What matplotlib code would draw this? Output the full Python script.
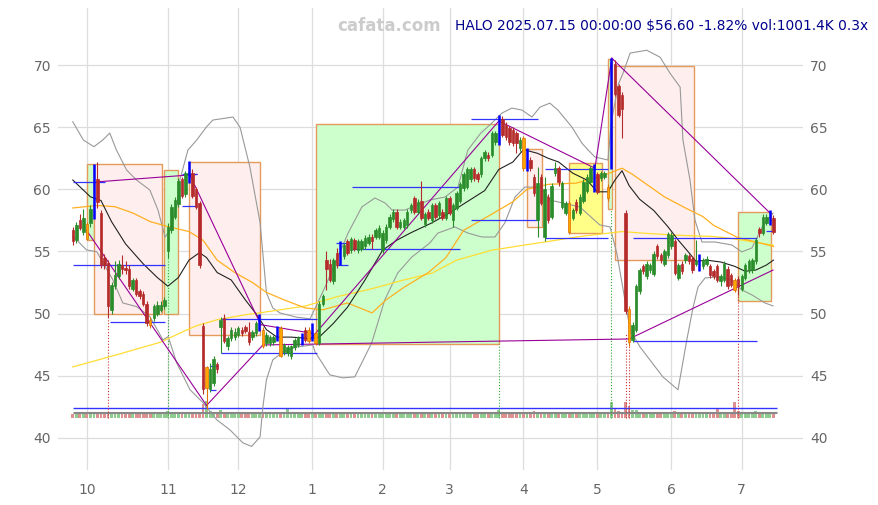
import numpy as np
import pandas as pd
import matplotlib
matplotlib.use('Agg')
import matplotlib.pyplot as plt
from matplotlib.patches import Rectangle

# trading days shown (NYSE calendar)
holidays = ['2024-11-28', '2024-12-25', '2025-01-01', '2025-01-09', '2025-01-20',
            '2025-02-17', '2025-04-18', '2025-05-26', '2025-06-19', '2025-07-04']
dates = pd.bdate_range('2024-09-25', '2025-07-15')
dates = dates[~dates.isin(pd.to_datetime(holidays))]

opens = [56.7, 55.9, 57.5, 56.6, 57.2, 57.3, 58.4, 60.8, 58.1, 54.5,
         54.1, 50.3, 52.2, 53.0, 53.9, 53.7, 53.6, 52.0, 52.7, 51.8,
         51.6, 50.8, 49.5, 49.6, 50.0, 50.3, 50.6, 55.0, 56.7, 57.8,
         58.8, 60.8, 59.6, 60.8, 61.3, 60.0, 58.9, 49.0, 44.0, 43.9,
         44.4, 45.9, 48.9, 49.6, 47.4, 48.0, 48.1, 48.3, 48.7, 48.9,
         48.5, 48.1, 48.4, 48.7, 48.7, 47.6, 47.6, 47.7, 47.9, 48.8,
         46.9, 46.8, 46.6, 47.3, 47.5, 47.6, 48.7, 48.7, 47.9, 48.4,
         47.6, 50.8, 54.3, 54.0, 52.6, 54.9, 54.0, 54.6, 55.8, 55.1,
         55.9, 55.1, 55.2, 55.4, 55.7, 56.2, 56.2, 56.2, 55.1, 55.9,
         57.0, 57.6, 58.2, 57.0, 57.0, 57.1, 58.3, 59.3, 58.2, 59.1,
         57.2, 58.2, 57.5, 58.7, 57.9, 58.2, 57.7, 59.3, 57.5, 58.5,
         59.1, 60.1, 60.2, 60.8, 61.6, 61.2, 61.2, 62.5, 62.8, 62.8,
         63.8, 63.8, 65.7, 65.2, 64.9, 64.8, 64.5, 63.3, 64.1, 61.7,
         62.4, 61.0, 57.5, 61.0, 56.2, 59.4, 57.8, 61.3, 61.7, 58.6,
         58.1, 58.9, 57.7, 59.0, 58.1, 59.1, 59.9, 60.6, 60.0, 61.2,
         60.9, 61.0, 60.2, 61.8, 70.1, 68.3, 67.6, 58.1, 50.4, 47.9,
         48.7, 51.8, 53.8, 53.0, 53.5, 53.2, 55.4, 54.7, 54.0, 54.7,
         55.4, 55.8, 52.9, 54.0, 54.3, 54.6, 54.4, 54.0, 53.6, 53.8,
         54.0, 53.8, 53.4, 53.8, 52.6, 52.7, 53.6, 53.1, 52.7, 52.8,
         52.0, 52.9, 53.5, 53.5, 54.2, 56.8, 56.5, 57.3, 57.3, 57.7]
highs = [57.0, 57.4, 58.0, 58.4, 57.4, 58.7, 62.0, 62.2, 58.3, 54.8,
         54.3, 52.5, 54.2, 54.3, 54.7, 54.2, 53.9, 52.9, 52.9, 52.0,
         51.8, 51.0, 49.7, 50.8, 51.0, 51.0, 51.3, 57.3, 58.8, 59.4,
         60.9, 61.0, 61.5, 62.3, 61.6, 60.2, 59.1, 49.2, 45.8, 46.0,
         46.6, 46.1, 49.7, 50.0, 48.2, 48.9, 48.8, 49.0, 48.9, 49.1,
         49.3, 48.7, 49.4, 50.0, 48.9, 48.5, 48.3, 48.3, 49.0, 49.0,
         47.6, 47.5, 47.5, 48.0, 48.2, 48.4, 48.9, 48.9, 49.2, 48.6,
         51.0, 51.6, 55.0, 54.4, 54.5, 55.3, 55.8, 55.7, 56.0, 56.2,
         56.1, 56.0, 56.0, 56.3, 56.4, 56.4, 56.9, 57.1, 56.7, 57.2,
         58.0, 58.4, 58.4, 57.6, 57.7, 58.4, 58.9, 59.5, 59.2, 60.7,
         58.2, 58.4, 58.9, 58.9, 59.1, 58.4, 59.5, 59.5, 58.9, 59.9,
         60.6, 61.4, 61.8, 61.8, 61.8, 61.4, 62.7, 63.2, 63.0, 64.7,
         64.7, 66.0, 65.9, 65.4, 65.1, 65.0, 64.7, 64.2, 64.3, 63.3,
         62.6, 61.2, 61.8, 61.2, 61.0, 59.6, 60.5, 62.2, 61.9, 60.7,
         59.1, 59.1, 58.5, 59.2, 59.6, 60.8, 61.2, 61.9, 62.0, 61.4,
         61.5, 61.5, 60.4, 70.6, 70.4, 68.5, 67.8, 58.3, 50.6, 49.3,
         52.4, 53.7, 54.0, 54.2, 54.1, 55.0, 55.6, 54.9, 55.2, 56.6,
         56.6, 56.0, 54.1, 54.2, 54.9, 54.8, 54.6, 55.9, 54.8, 54.5,
         54.6, 54.0, 53.6, 54.0, 53.2, 54.2, 53.8, 53.3, 52.9, 53.0,
         53.2, 54.1, 54.4, 54.5, 56.1, 57.0, 58.0, 58.0, 58.3, 57.9]
lows = [55.5, 55.7, 56.7, 56.3, 55.9, 57.0, 57.6, 58.5, 53.7, 53.6,
        49.6, 50.0, 52.0, 52.8, 53.2, 53.2, 52.0, 51.8, 51.4, 51.2,
        50.6, 49.0, 48.8, 49.4, 49.8, 50.1, 50.4, 54.5, 56.5, 57.6,
        58.6, 59.3, 59.4, 60.5, 59.3, 58.4, 53.7, 43.5, 42.3, 43.7,
        44.2, 45.2, 46.8, 47.6, 47.1, 47.8, 47.9, 48.1, 48.2, 48.4,
        47.5, 47.9, 48.2, 48.6, 47.2, 47.4, 47.4, 47.5, 47.8, 46.5,
        46.7, 46.6, 46.3, 47.1, 47.3, 47.5, 47.7, 47.6, 47.8, 47.5,
        47.5, 50.6, 51.9, 52.5, 52.4, 53.7, 53.9, 54.4, 54.7, 54.9,
        55.0, 54.9, 55.0, 55.2, 55.5, 55.2, 56.0, 56.0, 54.9, 55.7,
        56.8, 57.4, 56.8, 56.8, 56.8, 56.9, 58.1, 58.0, 58.0, 57.5,
        57.0, 57.5, 57.3, 57.6, 57.7, 57.5, 57.5, 57.9, 57.0, 58.3,
        58.9, 59.9, 60.0, 60.6, 60.7, 60.6, 61.0, 62.3, 62.3, 62.6,
        63.6, 63.6, 64.2, 64.0, 63.6, 63.5, 62.9, 63.1, 61.5, 61.5,
        61.5, 59.5, 56.2, 58.7, 55.8, 57.3, 57.6, 61.1, 60.3, 58.4,
        57.9, 56.4, 57.5, 58.1, 57.9, 58.9, 59.7, 60.4, 59.8, 59.6,
        60.7, 60.8, 59.1, 61.6, 67.5, 65.8, 64.1, 50.0, 47.4, 47.7,
        48.5, 51.6, 53.2, 52.8, 53.3, 53.0, 54.4, 54.1, 53.8, 54.5,
        55.2, 53.1, 52.7, 53.2, 54.1, 54.0, 53.3, 53.8, 53.4, 53.6,
        53.8, 52.9, 52.8, 52.5, 52.2, 52.5, 52.0, 52.1, 51.7, 51.5,
        51.8, 52.7, 53.3, 53.3, 54.0, 56.2, 56.3, 57.1, 57.1, 56.4]
closes = [55.8, 57.1, 56.9, 57.7, 56.0, 58.4, 61.0, 59.0, 53.9, 53.9,
          50.6, 52.3, 53.1, 54.0, 53.6, 53.5, 52.2, 52.7, 51.6, 51.4,
          50.8, 49.2, 49.1, 50.6, 50.7, 50.7, 51.1, 57.0, 58.6, 59.1,
          60.7, 59.5, 61.3, 62.2, 59.5, 58.6, 53.9, 43.9, 45.7, 45.5,
          46.3, 45.5, 49.5, 47.8, 48.0, 48.7, 48.5, 48.8, 48.4, 48.6,
          47.7, 48.5, 49.2, 49.9, 47.4, 48.3, 48.1, 48.1, 48.8, 46.6,
          47.5, 47.3, 47.4, 47.9, 48.1, 48.3, 47.9, 47.8, 49.1, 47.6,
          50.8, 51.4, 53.6, 52.7, 54.3, 53.9, 55.6, 55.5, 54.9, 56.0,
          55.2, 55.8, 55.8, 56.1, 56.2, 55.8, 56.7, 56.9, 56.5, 57.0,
          57.8, 58.2, 57.0, 57.4, 57.5, 58.2, 58.7, 58.2, 59.0, 57.7,
          58.0, 57.7, 58.7, 57.8, 58.9, 57.7, 59.3, 58.1, 58.7, 59.7,
          60.4, 61.2, 61.6, 61.6, 60.9, 60.8, 62.5, 63.0, 62.5, 64.5,
          64.5, 65.3, 64.4, 64.2, 63.8, 63.7, 63.7, 64.0, 61.7, 63.2,
          61.7, 59.7, 60.5, 58.9, 60.0, 57.5, 60.3, 61.7, 60.6, 60.5,
          58.9, 56.6, 58.3, 58.3, 59.4, 60.6, 61.0, 61.7, 61.9, 59.8,
          61.3, 61.3, 59.3, 70.5, 67.7, 66.0, 66.5, 50.2, 47.7, 49.1,
          52.2, 53.5, 53.4, 54.0, 53.9, 54.8, 54.6, 54.3, 55.0, 56.4,
          56.3, 53.3, 53.9, 53.4, 54.7, 54.2, 53.5, 54.2, 54.6, 54.3,
          54.4, 53.1, 53.0, 52.7, 53.0, 54.0, 52.2, 52.3, 51.9, 52.2,
          53.0, 53.9, 54.2, 54.3, 55.9, 56.5, 57.8, 57.8, 57.65, 56.6]
volume_k = [2300, 2100, 2400, 2200, 2600, 2500, 2900, 3300, 3100, 2600,
            3000, 2400, 2200, 2300, 2000, 2100, 2300, 2000, 2200, 2100,
            2300, 2500, 2400, 2200, 2100, 2000, 2300, 3600, 2900, 2500,
            2600, 2300, 2400, 2800, 2500, 2400, 3400, 7200, 8600, 3800,
            3200, 2600, 4300, 3400, 2600, 2300, 2400, 2200, 2500, 2300,
            2600, 2200, 2300, 2500, 2700, 2200, 2100, 2000, 2400, 2800,
            2300, 4600, 2200, 2100, 2000, 2300, 2400, 2500, 2600, 2700,
            3000, 2800, 3200, 2600, 2500, 2400, 2700, 2300, 2400, 2200,
            2300, 2200, 2100, 2300, 2000, 2200, 2300, 2100, 2400, 2200,
            2300, 2200, 2500, 2100, 2000, 2300, 2200, 2400, 2100, 2600,
            2300, 2200, 2400, 2300, 2100, 2200, 2300, 2400, 2200, 2300,
            2400, 2300, 2500, 2200, 2400, 2300, 2500, 2400, 2200, 2600,
            2500, 4300, 2700, 2400, 2500, 2300, 2400, 2200, 2900, 2700,
            2500, 3500, 3000, 2700, 3100, 2600, 2800, 2400, 2500, 2600,
            2300, 2800, 2400, 2300, 2500, 2400, 2300, 2200, 2600, 2400,
            2200, 2300, 2700, 8200, 5000, 3600, 3000, 8200, 6300, 4300,
            4300, 3200, 2600, 2500, 2400, 2600, 2700, 2300, 2400, 2500,
            2400, 3800, 2600, 2500, 2300, 2400, 2600, 2300, 2500, 2400,
            2300, 2500, 2400, 5000, 2500, 2600, 2800, 2500, 8000, 3800,
            2500, 2600, 2400, 2500, 3500, 2600, 2400, 2300, 2200, 2100]

orange_days = [4, 22, 38, 54, 59, 67, 69, 128, 141, 152, 158, 188]
blue_days = [6, 33, 53, 58, 65, 68, 76, 121, 129, 148, 153, 178, 198]

# indicator lines (trading-day index, price)
mid_d = [0, 5, 8, 11, 15, 20, 24, 27, 30, 33, 36, 38, 41, 45, 49, 52, 55, 58, 62, 67,
         70, 74, 78, 83, 88, 92, 96, 102, 107, 112, 117, 121, 125, 128, 132, 135, 138,
         142, 146, 149, 152, 154, 156, 158, 161, 165, 169, 172, 175, 177, 180, 184,
         188, 191, 194, 197, 199]
mid_v = [60.75, 59.4, 59.1, 57.4, 55.6, 54.0, 52.9, 52.2, 52.9, 54.3, 54.9, 54.5, 53.3,
         52.7, 51.1, 50.0, 48.7, 48.1, 48.1, 48.0, 48.1, 49.2, 50.5, 52.7, 55.1, 55.9,
         56.5, 57.3, 58.1, 59.0, 59.9, 61.6, 62.2, 63.2, 62.9, 62.5, 62.2, 61.3, 60.75,
         59.8, 59.8, 60.75, 61.5, 60.3, 59.2, 58.3, 57.0, 55.9, 54.9, 54.2, 54.3, 54.15,
         53.8, 53.4, 53.5, 53.9, 54.3]
ma50_d = [0, 7, 12, 17, 22, 27, 33, 37, 41, 46, 51, 55, 60, 66, 71, 78, 85, 89, 94,
          101, 106, 111, 119, 125, 129, 135, 143, 151, 156, 159, 163, 168, 174, 179,
          182, 189, 195, 199]
ma50_v = [58.5, 58.7, 58.6, 58.1, 57.4, 57.0, 56.6, 55.9, 54.3, 53.3, 52.5, 51.7, 51.1,
          50.45, 50.3, 50.85, 50.05, 51.1, 52.1, 53.3, 54.5, 56.7, 58.0, 59.0, 60.0,
          60.4, 60.5, 61.15, 61.7, 61.2, 60.4, 59.4, 58.5, 57.8, 57.1, 56.1, 55.7, 55.4]
ma200_d = [0, 14, 25, 31, 35, 41, 49, 53, 66, 75, 85, 94, 102, 109, 119, 128, 135,
           144, 156, 163, 172, 182, 187, 199]
ma200_v = [45.7, 46.8, 47.7, 48.5, 49.0, 49.5, 49.9, 50.05, 50.6, 51.35, 52.0, 52.7,
           53.25, 54.3, 55.1, 55.5, 55.8, 56.2, 56.6, 56.45, 56.3, 56.2, 56.05, 55.5]
upper_d = [0, 3, 6, 8.5, 10.5, 12.4, 15.3, 18.1, 21.9, 24.2, 26.2, 27.6, 29.5, 30.4,
           32.7, 35.2, 38, 39.8, 45.5, 47.5, 50.3, 53.2, 55, 56.8, 58.8, 63.6, 67.4,
           71.6, 75.3, 78.2, 82.1, 85.8, 88.7, 90.7, 94.3, 101.4, 105.7, 109.4, 112.2,
           115.9, 119, 121.9, 124.7, 127.6, 130.4, 132.7, 135.5, 137.8, 141.8, 144.6,
           146.4, 148.3, 152, 153, 155, 156.3, 158.3, 163, 166.8, 169.6, 172.5, 173.3,
           175.3, 176.7, 177.6, 178.7, 182.4, 187.2, 190, 192.9, 195.8, 198.9]
upper_v = [65.44, 63.97, 63.43, 63.97, 64.53, 63.16, 61.55, 60.75, 59.94, 58.33, 56.16,
           56.7, 58.6, 60.75, 63.16, 63.97, 65.04, 65.58, 65.82, 65.0, 61.8, 57.3, 51.66,
           50.45, 50.05, 49.7, 49.57, 52.1, 54.55, 56.48, 58.58, 59.3, 58.9, 58.33, 58.33,
           59.14, 59.38, 60.18, 63.16, 64.53, 65.33, 66.14, 66.54, 66.38, 65.82, 66.62,
           66.94, 66.38, 65.0, 63.72, 63.16, 62.6, 62.36, 65.5, 68.5, 69.36, 70.97, 71.2,
           70.64, 69.36, 68.23, 63.97, 60.75, 57.53, 56.73, 55.76, 55.76, 55.52, 54.96,
           55.28, 56.97, 58.09]
lower_d = [0, 1.1, 3.9, 6.8, 11.4, 14.2, 18.1, 21.9, 25.6, 27.1, 29.5, 33.3, 37, 40.9,
           44.6, 48.3, 50.8, 53.2, 54, 55, 56.8, 59.7, 63.6, 68.2, 68.8, 73, 76.7, 80.1,
           84.9, 88.6, 92.3, 96.3, 101.4, 103.7, 108.5, 112.2, 116.2, 119.9, 122.7, 125.6,
           128.4, 132.7, 135.5, 144, 149.7, 152.6, 154.5, 158.3, 161.1, 163.9, 167.6,
           171.9, 174.4, 176.2, 177.6, 179.6, 183.8, 187.2, 190, 192.9, 196.6, 198.9]
lower_v = [56.2, 55.92, 55.12, 54.98, 52.7, 50.85, 50.56, 49.75, 47.88, 48.14, 46.03,
           43.86, 42.81, 41.44, 40.64, 39.59, 39.3, 40.07, 42.49, 44.66, 46.27, 46.91,
           47.31, 47.47, 46.91, 45.06, 44.82, 44.9, 47.64, 51.09, 53.27, 54.55, 55.68,
           56.48, 56.97, 56.48, 56.16, 56.16, 57.29, 59.38, 60.18, 60.18, 59.14, 58.58,
           57.13, 56.97, 54.88, 48.68, 47.31, 46.27, 44.9, 43.86, 47.88, 50.53, 52.14,
           52.87, 52.95, 52.7, 51.9, 51.5, 50.85, 50.61]

# zones: start day, end day, low, high, kind
zones = [(4.1, 6.0, 55.9, 62.0, 'g'), (6.0, 25.2, 50.0, 62.0, 'p'),
         (26.0, 29.9, 50.0, 61.55, 'g'), (33.0, 53.2, 48.3, 62.2, 'p'),
         (69.1, 121.0, 47.53, 65.25, 'g'), (129.1, 133.2, 56.94, 63.22, 'p'),
         (141.0, 150.2, 56.51, 62.09, 'y'), (152.1, 153.2, 58.4, 70.5, 'g'),
         (154.0, 176.3, 54.31, 69.92, 'p'), (189.0, 198.2, 51.04, 58.15, 'g')]
zone_fill = {'g': '#ccffcc', 'p': '#ffeeee', 'y': '#ffff88'}

# trend lines (day, price) -> (day, price)
trends = [(6.8, 60.6, 35.3, 61.2), (3.9, 56.7, 38.0, 42.6), (33.0, 61.3, 53.4, 49.1),
          (53.4, 49.1, 68.2, 48.4), (38.0, 42.6, 54.0, 47.47), (54.0, 47.47, 158.0, 47.95),
          (67.4, 47.9, 121.0, 65.5), (121.0, 65.5, 148.3, 61.7), (148.3, 61.7, 153.1, 70.56),
          (153.1, 70.56, 198.0, 58.1), (158.0, 47.95, 198.9, 53.5)]

# horizontal levels: start day, end day, price
levels = [(0, 9.2, 60.6), (0, 26.2, 53.9), (10.5, 26.2, 49.3), (31, 35.3, 61.2),
          (31, 35.3, 58.65), (39, 41.3, 45.8), (39, 40.8, 43.85), (42.1, 69.3, 49.55),
          (42.1, 69.3, 46.8), (74.9, 78.2, 55.65), (74.9, 78.2, 53.9), (79.2, 110, 60.2),
          (79.2, 110, 55.2), (113.1, 132.2, 65.7), (113.1, 132.2, 57.5), (134.1, 152, 61.6),
          (134.1, 152, 56.1), (159.1, 194.2, 56.1), (159.1, 194.2, 47.75),
          (196.9, 199.4, 56.65)]

# signal days: day, top price, colour
signals = [(10, 49.6, 'r'), (27, 54.5, 'g'), (121, 47.53, 'g'), (153, 58.4, 'g'),
           (157, 48.4, 'r'), (158, 47.4, 'r'), (189, 51.5, 'r')]

UP = '#2a8c2a'
DOWN = '#b52a2a'
VBASE = 41.55
VSCALE = 0.000161

fig = plt.figure(figsize=(8.79, 5.05), dpi=100)
ax = fig.add_axes([58 / 879, 1 - 470 / 505, (803 - 58) / 879, (470 - 8) / 505])

for d0, d1, lo, hi, k in zones:
    ax.add_patch(Rectangle((d0, lo), d1 - d0, hi - lo, facecolor=zone_fill[k],
                           edgecolor='#e39a5b', lw=1.0, zorder=1))

x = np.arange(len(closes))
vcol = ['#8fcc8f' if c >= o else '#dc9090' for o, c in zip(opens, closes)]
ax.bar(x, np.array(volume_k) * VSCALE, bottom=VBASE, width=0.8, color=vcol, zorder=2)
ax.hlines([42.37], 0, 200, color='#3333ff', lw=1.0, zorder=3)
ax.hlines([42.10, 42.02], 0, 200, color='#888888', lw=0.8, zorder=3)

for d, top, c in signals:
    ax.vlines(d, VBASE, top, color='#cc3333' if c == 'r' else '#33aa33',
              lw=0.8, linestyles=':', zorder=3)

ax.plot(upper_d, upper_v, color='#999999', lw=0.8, zorder=3)
ax.plot(lower_d, lower_v, color='#999999', lw=0.8, zorder=3)
ax.plot(ma200_d, ma200_v, color='#ffdd33', lw=0.9, zorder=3)
ax.plot(ma50_d, ma50_v, color='#ffb020', lw=0.9, zorder=3)
ax.plot(mid_d, mid_v, color='#222222', lw=0.8, zorder=3)

for d0, p0, d1, p1 in trends:
    ax.plot([d0, d1], [p0, p1], color='#990099', lw=0.8, zorder=4)
for d0, d1, p in levels:
    ax.hlines(p, d0, d1, color='#3333ff', lw=0.9, zorder=4)

for i in x:
    o, h, l, c = opens[i], highs[i], lows[i], closes[i]
    if i in blue_days:
        ax.vlines(i, l, h, color='#0000ff', lw=1.8, zorder=6)
        continue
    if i in orange_days:
        col, edge = '#ffa500', '#e07000'
    else:
        col = UP if c >= o else DOWN
        edge = col
    ax.vlines(i, l, h, color=edge, lw=0.8, zorder=5)
    ax.bar(i, max(abs(c - o), 0.06), bottom=min(o, c), width=0.7,
           color=col, edgecolor=edge, lw=0.5, zorder=5)

month_pos = [i for i in range(1, len(dates)) if dates[i].month != dates[i - 1].month]
month_lab = [str(dates[i].month) for i in month_pos]

ax.set_xlim(-4.2, 207.4)
ax.set_ylim(37.4, 74.6)
ax.set_xticks(month_pos)
ax.set_xticklabels(month_lab)
ax.set_yticks([40, 45, 50, 55, 60, 65, 70])
ax.grid(True, color='#dddddd', lw=0.9, zorder=0)
ax.set_axisbelow(True)
for s in ax.spines.values():
    s.set_visible(False)
ax.tick_params(axis='both', length=0, labelsize=10, colors='#666666')
ax.tick_params(axis='y', labelright=True, pad=5)
ax.tick_params(axis='x', pad=9)

fig.text(0.4425, 0.9485, 'cafata.com', ha='center', va='center', fontsize=12,
         fontweight='bold', color='#cccccc')
fig.text(0.9875, 0.9485, 'HALO 2025.07.15 00:00:00 $56.60 -1.82% vol:1001.4K 0.3x',
         ha='right', va='center', fontsize=9.9, color='#00008b')

fig.savefig('out.png', dpi=100)
